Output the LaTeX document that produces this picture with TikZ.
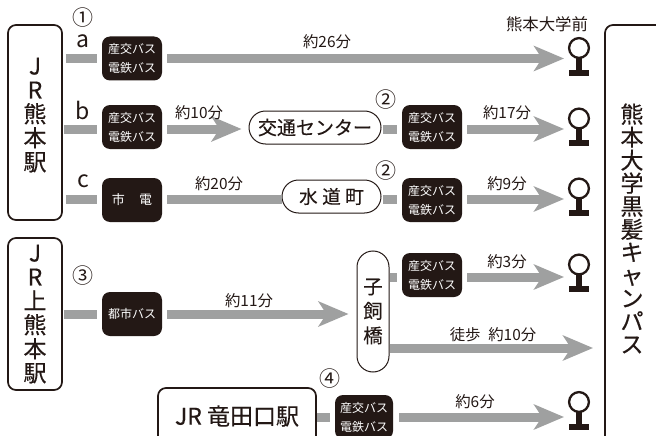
\documentclass[tikz,border=0pt]{standalone}
\usepackage{fontspec}
\setmainfont{Noto Sans CJK JP}
\newfontfamily\heavyfont[FakeBold=0.35]{Noto Sans CJK JP}
\newfontfamily\midfont[FakeBold=0.15]{Noto Sans CJK JP}
\usetikzlibrary{arrows.meta,shapes.misc,positioning}
\definecolor{ink}{HTML}{231815}
\definecolor{bargrey}{HTML}{9FA0A0}
\lineskiplimit=-100pt
\newcommand{\fs}[2]{\fontsize{#1}{#2}\selectfont}
\tikzset{
  outlinebox/.style={draw=ink,line width=1.7pt,rounded corners=8pt,inner sep=0pt,fill=white},
  darkbox/.style={fill=ink,text=white,rounded corners=8pt,inner sep=0pt,minimum width=60pt,minimum height=44pt,align=center,font=\fs{12}{19}},
  oval/.style={draw=ink,line width=1pt,rounded rectangle,fill=white,inner sep=0pt,text=ink},
  vertoval/.style={draw=ink,line width=1pt,rounded corners=16pt,fill=white,inner sep=0pt,text=ink},
  bar/.style={draw=bargrey,line width=9pt},
  bararrow/.style={bar,-{Stealth[length=30pt,width=25pt,inset=8pt]}},
  tlabel/.style={text=ink,inner sep=0pt,font=\fs{15.4}{16}},
  vlabel/.style={text=ink,inner sep=0pt,align=center,font=\heavyfont\fs{23}{24}},
  marklabel/.style={text=ink,inner sep=0pt,font=\fs{21}{21}},
  stopicon/.pic={
    \draw[ink,line width=2.3pt] (0,0) circle[radius=9.9];
    \fill[ink] (-2.6,9) -- (2.6,9) -- (2.6,21.7) -- (-2.6,21.7) -- cycle;
    \fill[ink] (-10,21.7) rectangle (10,27.7);
  }
}
\begin{document}
\begin{tikzpicture}[x=1pt,y=-1pt]
\clip (0,0) rectangle (656,436);
\fill[white] (0,0) rectangle (656,436);
% outline boxes
\node[outlinebox,minimum width=54pt,minimum height=195pt] (jr1) at (35,122.5) {};
\node[vlabel] (jr1t) at (35,115) {J\\R\\熊\\本\\駅};
\node[outlinebox,minimum width=54pt,minimum height=152pt] (jr2) at (35,314) {};
\node[vlabel] (jr2t) at (35,314) {J\\R\\上\\熊\\本\\駅};
\node[outlinebox,minimum width=66pt,minimum height=480pt] (camp) at (638,265) {};
\node[vlabel,font=\heavyfont\fs{23}{23}] (campt) at (632,228.5) {熊\\本\\大\\学\\黒\\髪\\キ\\ャ\\ン\\パ\\ス};
\node[outlinebox,minimum width=158pt,minimum height=90pt] (tat) at (237,433) {};
\node[text=ink,inner sep=0pt,font=\heavyfont\fs{23}{23}] (tatt) at (237,416) {JR 竜田口駅};
% dark boxes
\node[darkbox] (a1) at (132,58.5) {産交バス\\電鉄バス};
\node[darkbox] (b1) at (132,127) {産交バス\\電鉄バス};
\node[darkbox] (b2) at (432,127) {産交バス\\電鉄バス};
\node[darkbox,font=\fs{13}{15}] (c1) at (132,200) {市\hspace{1.1em}電};
\node[darkbox] (c2) at (432,200) {産交バス\\電鉄バス};
\node[darkbox] (d2) at (432,275) {産交バス\\電鉄バス};
\node[darkbox] (d1) at (132,314) {都市バス};
\node[darkbox,minimum width=58pt] (e1) at (364,417) {産交バス\\電鉄バス};
% ovals
\node[oval,minimum width=132pt,minimum height=33pt,font=\midfont\fs{19}{19}] (kc) at (315,127.5) {交通センター};
\node[oval,minimum width=99pt,minimum height=33pt,font=\midfont\fs{18.5}{18}] (sd) at (331.5,196.5) {水\hspace{0.25em}道\hspace{0.25em}町};
\node[vertoval,minimum width=32pt,minimum height=121pt,align=center,font=\midfont\fs{19.5}{24.5}] (kg) at (373,311.5) {子\\飼\\橋};
% arrow ends
\coordinate (t1) at (564,58.5);
\coordinate (t2) at (564,129);
\coordinate (t3) at (564,199);
\coordinate (t4) at (564,277);
\coordinate (t5) at (593,348);
\coordinate (t6) at (564,417);
% connectors
\draw[bar,shorten <=3pt,shorten >=5pt] (jr1.east |- a1.west) -- (a1.west);
\draw[bararrow,shorten <=5pt] (a1.east) -- (t1);
\draw[bar,shorten <=1pt,shorten >=5pt] (jr1.east |- t2) -- (b1.west |- t2);
\draw[bararrow,shorten <=5pt,shorten >=7pt] (b1.east |- t2) -- (kc.west |- t2);
\draw[bar,shorten <=1pt,shorten >=5pt] (kc.east |- t2) -- (b2.west |- t2);
\draw[bararrow,shorten <=5pt] (b2.east |- t2) -- (t2);
\draw[bar,shorten <=3pt,shorten >=5pt] (jr1.east |- t3) -- (c1.west |- t3);
\draw[bar,shorten <=5pt] (c1.east |- t3) -- (sd.west |- t3);
\draw[bar,shorten <=1pt,shorten >=5pt] (sd.east |- t3) -- (c2.west |- t3);
\draw[bararrow,shorten <=5pt] (c2.east |- t3) -- (t3);
\draw[bar,shorten <=1pt,shorten >=5pt] (jr2.east |- d1.west) -- (d1.west);
\draw[bararrow,shorten <=5pt,shorten >=8pt] (d1.east) -- (kg.west |- d1.east);
\draw[bar,shorten >=5pt] (kg.east |- t4) -- (d2.west |- t4);
\draw[bararrow,shorten <=5pt] (d2.east |- t4) -- (t4);
\draw[bararrow] (kg.east |- t5) -- (t5);
\draw[bar,shorten >=5pt] (tat.east |- e1.west) -- (e1.west);
\draw[bararrow,shorten <=6pt] (e1.east) -- (t6);
% stops
\pic at (579,48) {stopicon};
\pic at (579,118.5) {stopicon};
\pic at (579,188.5) {stopicon};
\pic at (579,264.5) {stopicon};
\pic at (579,402) {stopicon};
% labels
\node[tlabel] (l1) at (327,42) {約26分};
\node[tlabel] (l2) at (199,113) {約10分};
\node[tlabel] (l3) at (507,113) {約17分};
\node[tlabel] (l4) at (219,184) {約20分};
\node[tlabel] (l5) at (507,184) {約9分};
\node[tlabel] (l6) at (249,301) {約11分};
\node[tlabel] (l7) at (507,262) {約3分};
\node[tlabel] (l8) at (493,335) {徒歩\hspace{0.5em}約10分};
\node[tlabel] (l9) at (475,402) {約6分};
\node[tlabel,font=\fs{16.4}{17}] (l10) at (547,24) {熊本大学前};
\node[marklabel] (m1) at (83,18) {①};
\node[marklabel] (m2) at (386,100) {②};
\node[marklabel] (m3) at (386,171) {②};
\node[marklabel] (m4) at (83,276) {③};
\node[marklabel] (m5) at (330,379) {④};
\node[marklabel,font=\fs{23}{23}] (ma) at (83,41) {a};
\node[marklabel,font=\fs{23}{23}] (mb) at (83,110) {b};
\node[marklabel,font=\fs{23}{23}] (mc) at (83,181) {c};
\end{tikzpicture}
\end{document}
